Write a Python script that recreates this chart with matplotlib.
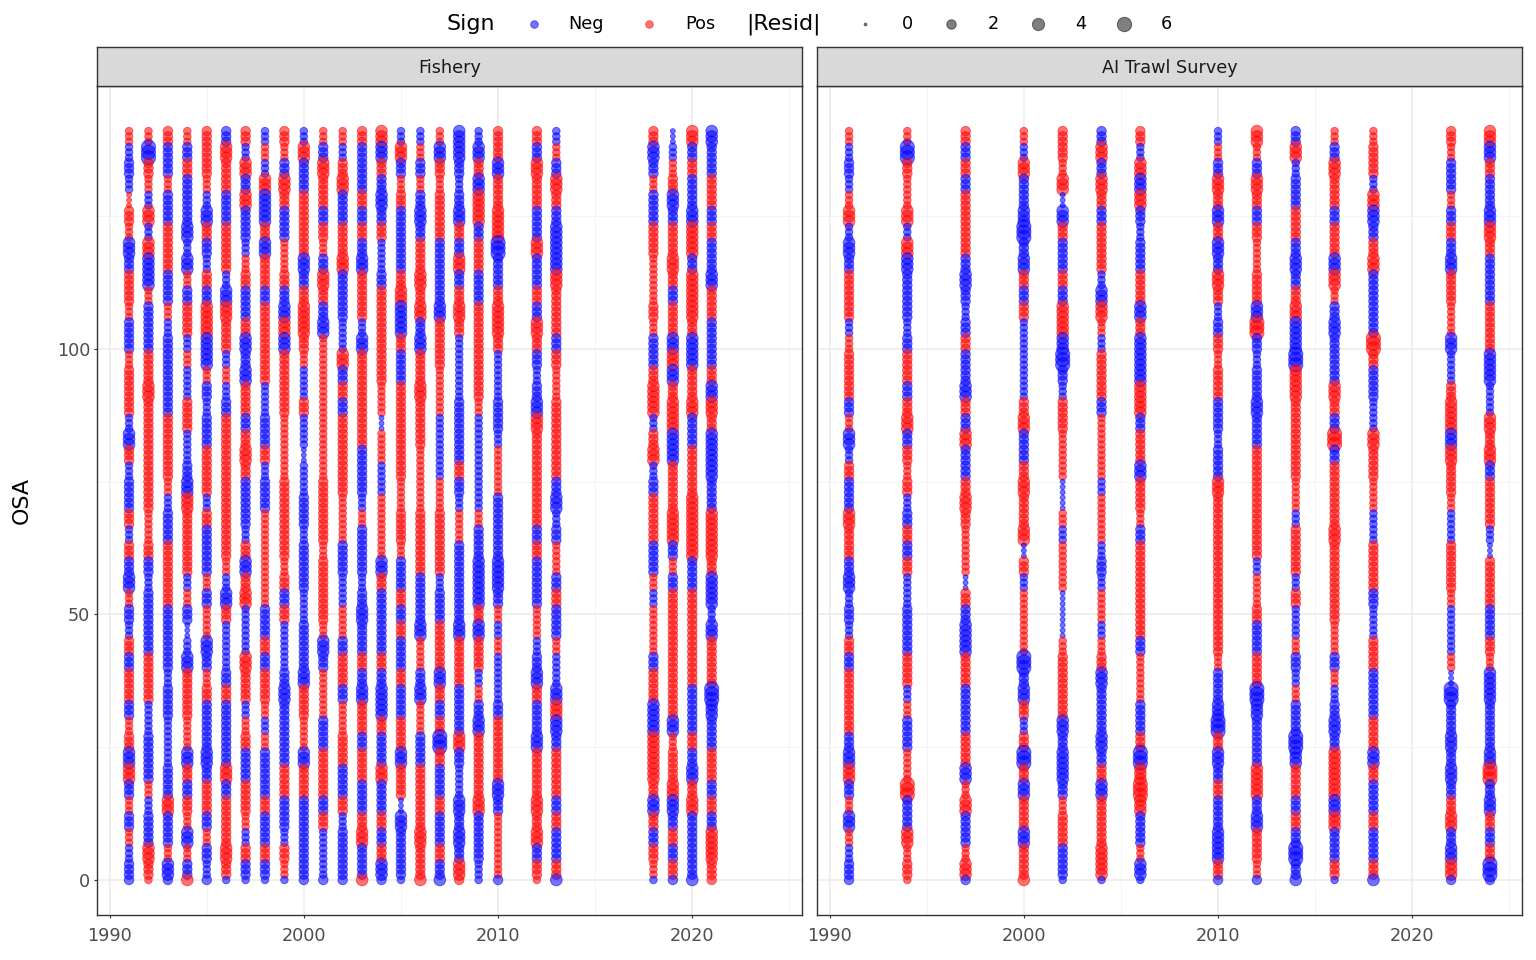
import numpy as np
import matplotlib.pyplot as plt

# OSA residual columns.
# Each letter covers 3 consecutive OSA rows, read from the top (OSA 141) down.
# lower case = negative residual (blue), upper case = positive (red);
# the letter gives the size class of |resid|.
fishery_years = [1991, 1992, 1993, 1994, 1995, 1996, 1997, 1998, 1999, 2000,
                 2001, 2002, 2003, 2004, 2005, 2006, 2007, 2008, 2009, 2010,
                 2012, 2013, 2018, 2019, 2020, 2021]
fishery_codes = [
    "BbcbACBdcCCBccBCCCbdCbcc" "CbCcdBcbCcCCcBCdDcBcBbcc",
    "BeCBbDbDddBcccCCDCCCCCCC" "BBCcbccccCCCbbcccBbccDCB",
    "CccBccCCCccBbcccccCCCCBb" "ccCCCCccccbccbbbccDccBdc",
    "BcCcccdbdBcCCbBbbCCbbcdD" "CCCCbBcabdCCCBBdCcCBdBcD",
    "CCCBbdCcbCcDDddBcbccCCCb" "CcccBcBBdcBCcccdcCCcBcbc",
    "cDCCccCCCbdDCCbBbcCCCCCC" "CCCBbdCbbbcCccccDcCCCDCb",
    "CbDcDccbBCccCdcdCCcCDCcc" "cbCdCDbbbDCCbBCccCCBbCcb",
    "bBbDddCdCCcCCCCCbbccCbcc" "BBBBBBccCcCCBbBcccCccCcb",
    "CBcDCccBBCcdDdCCCCBBBBCC" "CCCBCcCbbbcdccccCCccbCBb",
    "bDccCCCCdcCDDCBbbCbbabbc" "cbcccbbcccdCCBBdCCcccccc",
    "BcDCCcCBcDCcdBBBBBBBBBCC" "CCBCCCCBdcBBBccCCCcCbbbc",
    "BbCDccCCDcccbbDcCcCCCCCB" "BBccbbBBcCCcBBCCccCbcccc",
    "CcccCcCcdCCCbdCCCCCCcccb" "BcccbcdccCcdCCcCCccCDccD",
    "DdCcdcCbbcCCCCCCBBaBBbbB" "BBBdCccccCcddCccDccCcCdc",
    "bDcBCccccCDddCccCCCCCCBB" "CCBccCcCccCccCCdCCadcccb",
    "bBcBcdcCCDCDcdCCDCCCBBBB" "CCCCcccdBBcdBBccCCCCDCCD",
    "BdCBCCCccccdCCCBBBbbbbBB" "CCCCbccCCCdCcCeCccCccCcd",
    "ddcbcdCcDcCDCbbbbccccCcb" "BBcccccdCCCcccDcbbdcdcDC",
    "bdCdDDcCCccCCCCCCBbbbbbb" "BccdddCdCCbBcdCCCCDcccbb",
    "CCdCCDDeccCDDCbbbccbBBBc" "cccddcBbBbbbcCCCCdcBBBBc",
    "CcDCCccDccCcDCcbcdDCCCCC" "CcCcccBBbcdCccdCCCDCDcCB",
    "bBcDCcdddDCCCcCBBCCCCCcd" "bcBBcCccBbbdDdcCCCcCccCd",
    "CdcBccCCBBBCBccCDDbCDbcC" "CCccBbBBBcCCddDDDCdCcCBb",
    "abBCdcCCDCcCCdDdCDDddCCC" "DDcBcCCCCCCCCdBCCDdcCcCc",
    "DcCccdDDcDDDCddCCDccCCCD" "DDDccCCCCCCcccCcdCDccccd",
    "dccCCcCccdCCcccCdDCdddcc" "DDDCddbdCCCedccCCcCcDDCC",
]

survey_years = [1991, 1994, 1997, 2000, 2002, 2004, 2006, 2010, 2012, 2014,
                2016, 2018, 2022, 2024]
survey_codes = [
    "BbcbBDbdcCCCbBCCCcBdbCcc" "DCCcdbcbCcCCCCcdDcBdBbcc",
    "BeCBBDbDdcccbcCCcCDcCBCb" "cCcCbbcccCCbBccBBEccDBCB",
    "CcCcCCCCcdcbcCccdCcDccCD" "CBBBaCcddCCcccCCdBDccBDc",
    "BbDccdecdCcCbbbbbCDccCDC" "CDaCbBBBBecdCbCeCdCCdCCD",
    "CCBDadCccCcDDdecbCCBBBaa" "BbBBBaaaBCCCCdcddcBCCccb",
    "cDcDCcCCCbdDBbCCCcBBBBbB" "BBbcbBBbBCdcccdcCdCCCDDb",
    "CbDdDcbccCCdCdddDDcCCdCC" "BcCCCCCCcBBBccCeDEDccBdb",
    "bBcDCdCdcDCbcCBCCccbccDC" "CCCCCCCCCBccdeCdcCccddCc",
    "DBcDCcCBBCCdEcbccdccCCCC" "CCCbBBCccCCedcccDDcdCCBc",
    "cDbccCCcdcCDddeDDCCCCCBB" "bCCCbCbbBcbBccedCCcCcecd",
    "BcDCCcCCdDBcdcccDCcEcCCC" "CDCCCCCBBcBbcdcDDDdDccCb",
    "BCCbDdcCDccccECccbbDCCBB" "bbCCCcbbCCcccCCdCccCccCd",
    "CBccBcCcdCCBBdbbCDDdDCCB" "bbCCCBbbbBaeccdcdcCDcdDc",
    "DdCccdDCcccCCCddbbDCDcCC" "CbaCCCccCBddcccdEcdCcCec",
]

panel_titles = ["Fishery", "AI Trawl Survey"]
osa_top = 141
rows_per_code = 3
resid_levels = {"a": 0.2, "b": 1.0, "c": 2.0, "d": 3.5, "e": 5.8}
legend_sizes = [0, 2, 4, 6]

NEG = (0, 0, 1, 0.55)
POS = (1, 0, 0, 0.55)


def expand(years, codes):
    xs, ys, vals, neg = [], [], [], []
    for yr, code in zip(years, codes):
        for i in range(osa_top + 1):
            ch = code[i // rows_per_code]
            xs.append(yr)
            ys.append(osa_top - i)
            vals.append(resid_levels[ch.lower()])
            neg.append(ch.islower())
    return np.array(xs), np.array(ys), np.array(vals), np.array(neg)


def marker_area(v):
    # area scale like ggplot's scale_size: diameter grows with sqrt(|resid|)
    d_px = 2.8 + 12.5 * np.sqrt(np.asarray(v) / 7.0)
    return (d_px * 72 / 100) ** 2


W, H = 1536, 960
fig = plt.figure(figsize=(W / 100, H / 100), dpi=100)

grid_col = "#EBEBEB"
panels = [(97, fishery_years, fishery_codes), (817, survey_years, survey_codes)]
for idx, (left, years, codes) in enumerate(panels):
    ax = fig.add_axes([left / W, 1 - 915 / H, 705 / W, 829 / H])
    ax.set_xlim(1989.35, 2025.65)
    ax.set_ylim(-6.6, 149.5)
    ax.set_xticks([1990, 2000, 2010, 2020])
    ax.set_xticks([1995, 2005, 2015, 2025], minor=True)
    ax.set_yticks([0, 50, 100])
    ax.set_yticks([25, 75, 125], minor=True)
    ax.grid(True, which="major", color=grid_col, lw=1.1, zorder=0)
    ax.grid(True, which="minor", color="#F3F3F3", lw=0.6, zorder=0)
    ax.set_axisbelow(True)
    for sp in ax.spines.values():
        sp.set_color("#333333")
        sp.set_linewidth(1.0)
    ax.tick_params(which="minor", length=0)
    ax.tick_params(axis="x", which="major", length=2.5, width=0.8, color="#333333",
                   labelsize=12.7, labelcolor="#4D4D4D", pad=6)
    if idx == 0:
        ax.tick_params(axis="y", which="major", length=2.5, width=0.8, color="#333333",
                       labelsize=12.7, labelcolor="#4D4D4D", pad=2.5)
    else:
        ax.tick_params(axis="y", which="major", length=0, labelleft=False)

    xs, ys, vals, neg = expand(years, codes)
    cols = [NEG if n else POS for n in neg]
    ax.scatter(xs, ys, s=marker_area(vals), c=cols, edgecolors=cols,
               linewidths=0.7, zorder=3)

    # facet strip
    sax = fig.add_axes([left / W, 1 - 86 / H, 705 / W, 39 / H])
    sax.set_facecolor("#D9D9D9")
    sax.set_xticks([])
    sax.set_yticks([])
    for sp in sax.spines.values():
        sp.set_color("#333333")
        sp.set_linewidth(1.0)
    sax.text(0.5, 0.47, panel_titles[idx], ha="center", va="center",
             fontsize=12.7, color="#1A1A1A", transform=sax.transAxes)

fig.text(22 / W, 1 - 500 / H, "OSA", rotation=90, ha="center", va="center",
         fontsize=15.9, color="black")

# legend across the top
lax = fig.add_axes([0, 0, 1, 1])
lax.set_xlim(0, W)
lax.set_ylim(H, 0)
lax.axis("off")
ly = 24
lax.text(446, ly, "Sign", ha="left", va="center", fontsize=15.9)
lax.scatter([534], [ly], s=marker_area(1.0), color=NEG, edgecolors=NEG, linewidths=0.7)
lax.text(568, ly, "Neg", ha="left", va="center", fontsize=12.7)
lax.scatter([649], [ly], s=marker_area(1.0), color=POS, edgecolors=POS, linewidths=0.7)
lax.text(685, ly, "Pos", ha="left", va="center", fontsize=12.7)
lax.text(746, ly, "|Resid|", ha="left", va="center", fontsize=15.9)
for xp, v in zip([865, 951, 1038, 1124], legend_sizes):
    gray = (0, 0, 0, 0.5)
    lax.scatter([xp], [ly], s=marker_area(v), color=gray, edgecolors=gray, linewidths=0.7)
    lax.text(xp + 37, ly, str(v), ha="left", va="center", fontsize=12.7)

fig.savefig("out.png", dpi=100)
